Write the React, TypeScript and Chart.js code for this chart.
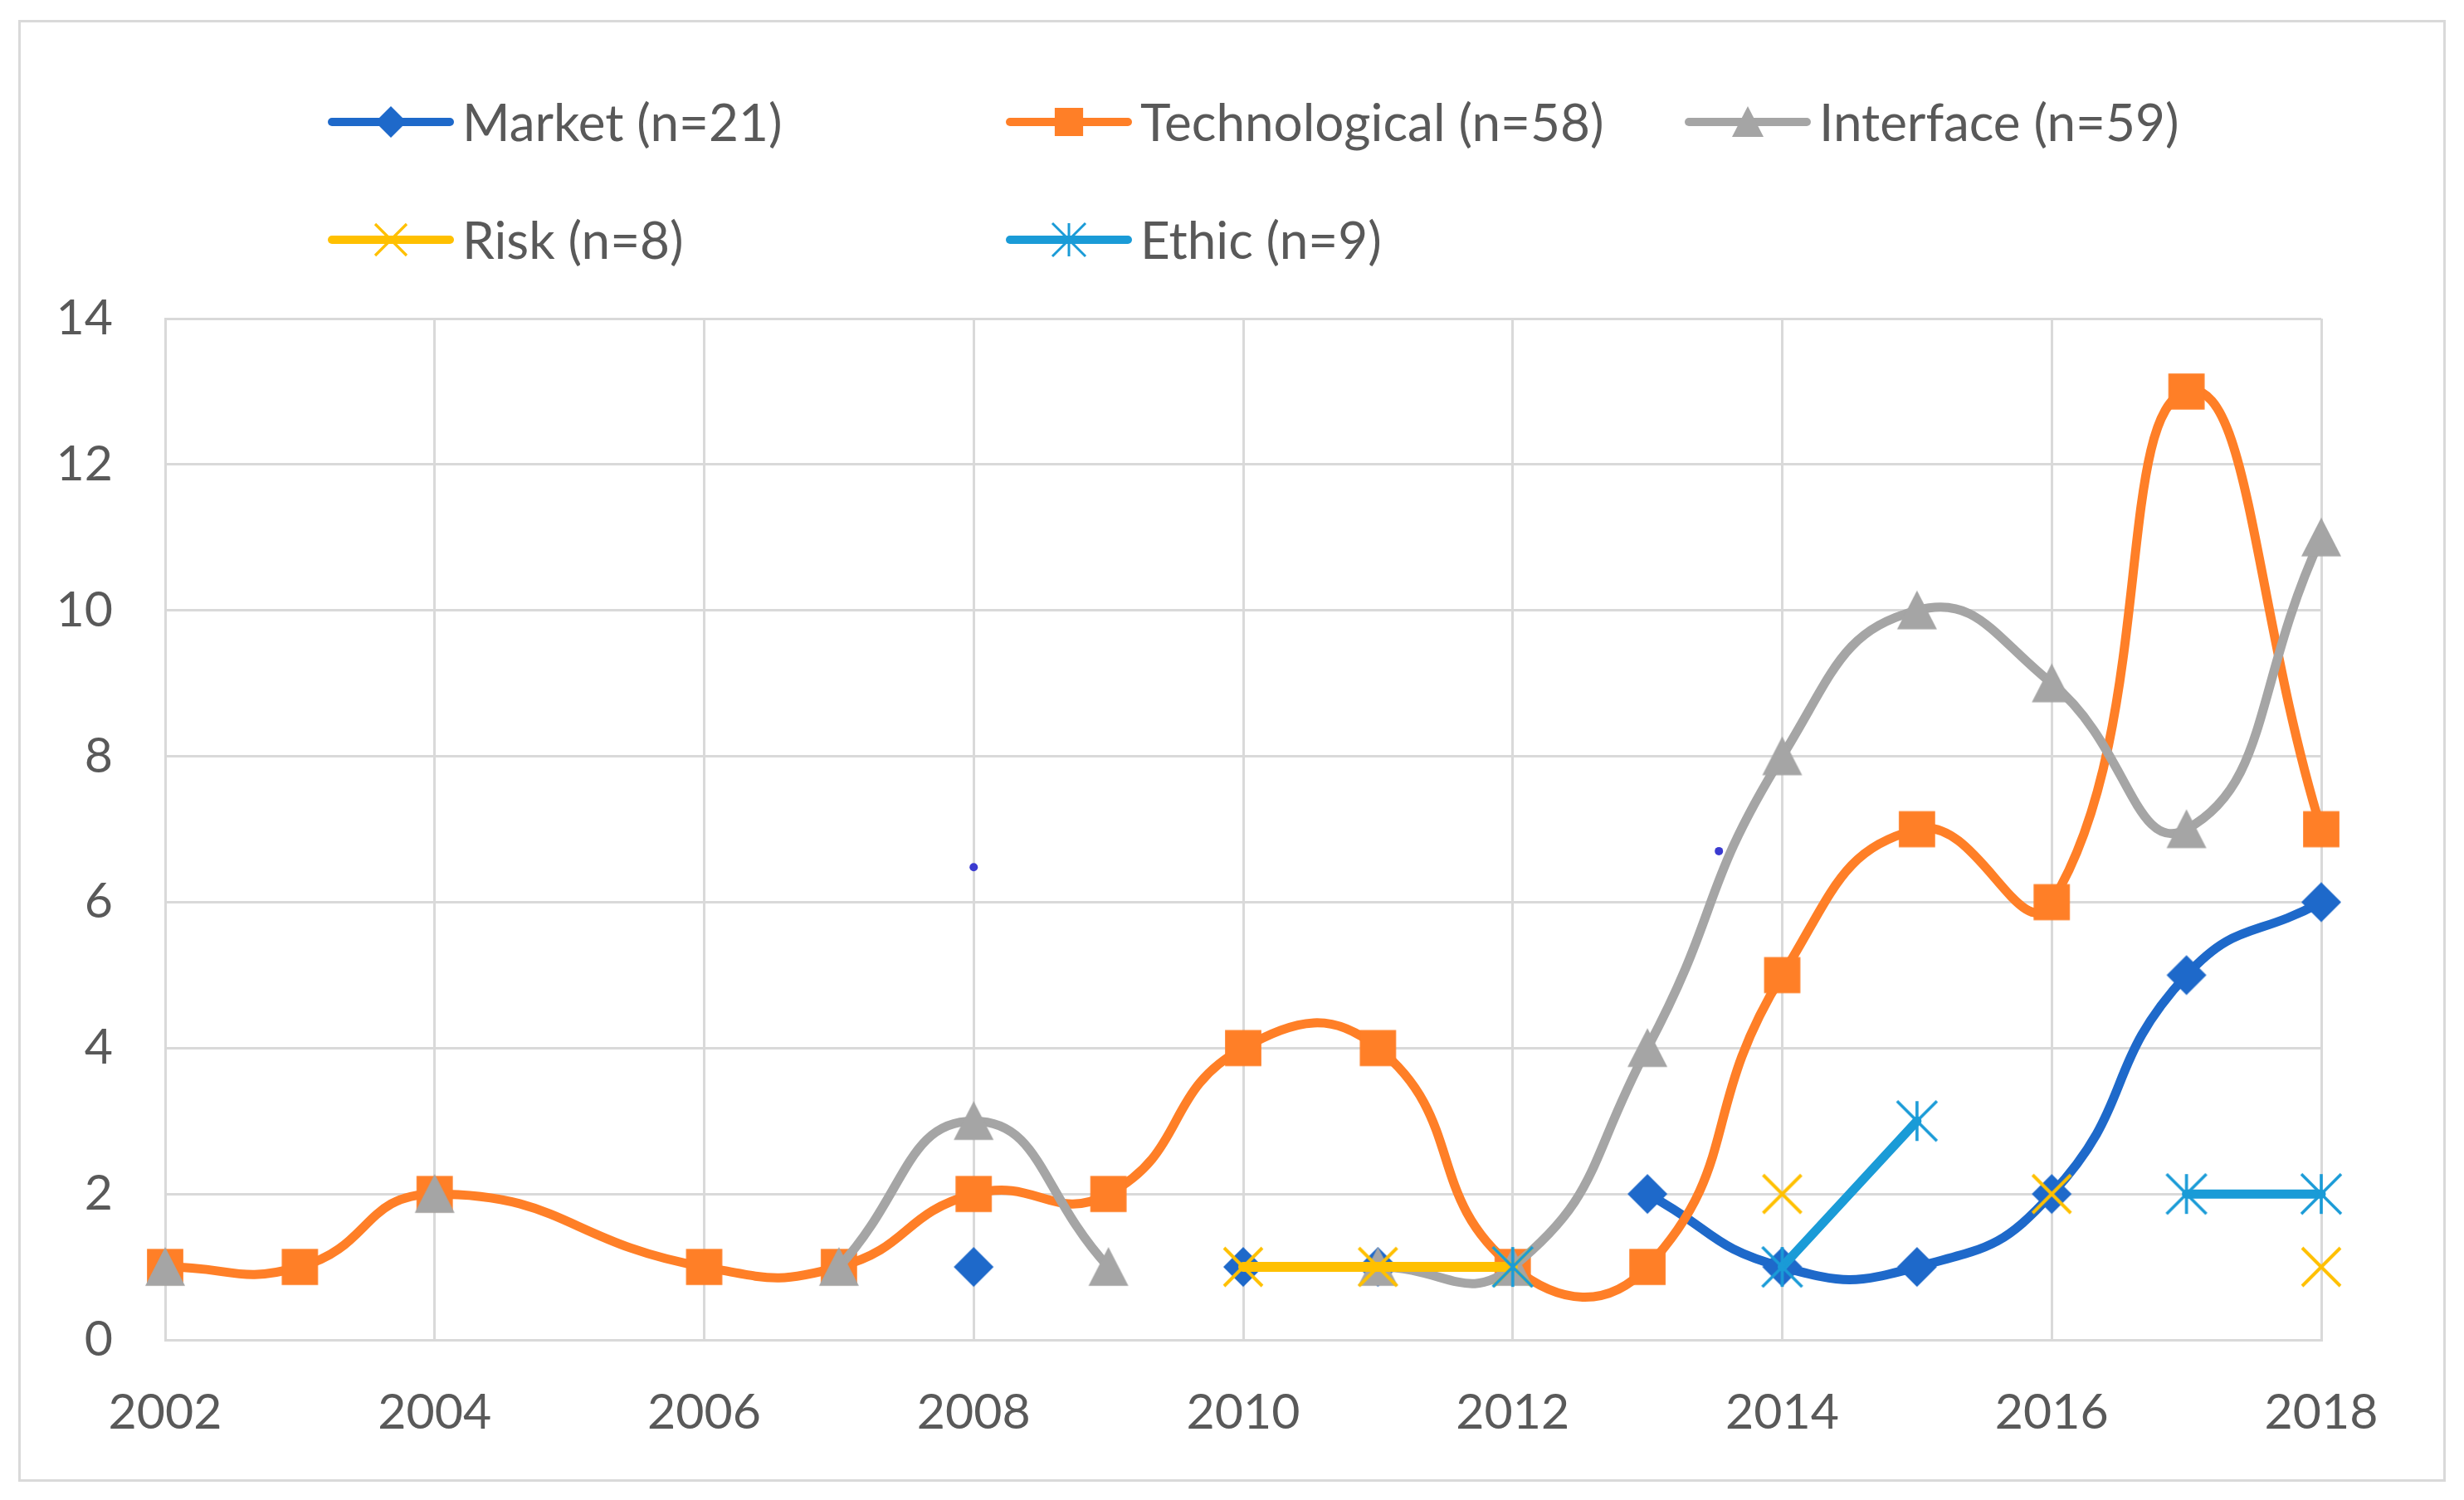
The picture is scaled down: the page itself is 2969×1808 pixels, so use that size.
import React, { useEffect, useRef } from 'react';
import { Chart, registerables } from 'chart.js';

Chart.register(...registerables);

// ---------------- data ----------------
const years = [2002, 2003, 2004, 2005, 2006, 2007, 2008, 2009, 2010, 2011, 2012, 2013, 2014, 2015, 2016, 2017, 2018];
const marketCounts = [null, null, null, null, null, null, 1, null, 1, 1, null, 2, 1, 1, 2, 5, 6];
const technologicalCounts = [1, 1, 2, null, 1, 1, 2, 2, 4, 4, 1, 1, 5, 7, 6, 13, 7];
const interfaceCounts = [1, null, 2, null, null, 1, 3, 1, null, 1, 1, 4, 8, 10, 9, 7, 11];
const riskCounts = [null, null, null, null, null, null, null, null, 1, 1, 1, null, 2, null, 2, null, 1];
const ethicCounts = [null, null, null, null, null, null, null, null, null, null, 1, null, 1, 3, null, 2, 2];
const strayDotX = [2008, 2013.53];
const strayDotY = [6.48, 6.7];
const seriesLabels = ['Market (n=21)', 'Technological (n=58)', 'Interface (n=59)', 'Risk (n=8)', 'Ethic (n=9)'];
const xTickValues = [2002, 2004, 2006, 2008, 2010, 2012, 2014, 2016, 2018];
const xTickLabels = ['2002', '2004', '2006', '2008', '2010', '2012', '2014', '2016', '2018'];
const yTickValues = [0, 2, 4, 6, 8, 10, 12, 14];
const yTickLabels = ['0', '2', '4', '6', '8', '10', '12', '14'];

// ---------------- styles ----------------
const COLORS = {
  market: '#1E69CA',
  tech: '#FF7F27',
  iface: '#A5A5A5',
  risk: '#FFC000',
  ethic: '#1A9BD7',
  stray: '#3A3AD0',
  grid: '#D9D9D9',
  text: '#595959',
};
const FONT_FAMILY = 'Lato, "Noto Sans", sans-serif';
const TICK_FONT_SIZE = 59;
const LEGEND_FONT_SIZE = 62;

type Kind = 'diamond' | 'square' | 'triangle' | 'x' | 'asterisk';

function makeMarker(kind: Kind, color: string, size: number): HTMLCanvasElement {
  const pad = 4;
  const c = document.createElement('canvas');
  c.width = size + pad * 2;
  c.height = size + pad * 2;
  const g = c.getContext('2d')!;
  const cx = c.width / 2;
  const cy = c.height / 2;
  const h = size / 2;
  g.fillStyle = color;
  g.strokeStyle = color;
  g.lineCap = 'butt';
  g.beginPath();
  if (kind === 'diamond') {
    g.moveTo(cx, cy - h);
    g.lineTo(cx + h, cy);
    g.lineTo(cx, cy + h);
    g.lineTo(cx - h, cy);
    g.closePath();
    g.fill();
  } else if (kind === 'square') {
    const s = h * 0.95;
    g.rect(cx - s, cy - s, 2 * s, 2 * s);
    g.fill();
  } else if (kind === 'triangle') {
    g.moveTo(cx, cy - h);
    g.lineTo(cx + h, cy + h * 0.95);
    g.lineTo(cx - h, cy + h * 0.95);
    g.closePath();
    g.fill();
  } else if (kind === 'x') {
    g.lineWidth = Math.max(3, size * 0.085);
    g.moveTo(cx - h, cy - h);
    g.lineTo(cx + h, cy + h);
    g.moveTo(cx + h, cy - h);
    g.lineTo(cx - h, cy + h);
    g.stroke();
  } else if (kind === 'asterisk') {
    g.lineWidth = Math.max(3, size * 0.075);
    g.moveTo(cx, cy - h);
    g.lineTo(cx, cy + h);
    g.moveTo(cx - h, cy - h);
    g.lineTo(cx + h, cy + h);
    g.moveTo(cx + h, cy - h);
    g.lineTo(cx - h, cy + h);
    g.stroke();
  }
  return c;
}

const toPoints = (vals: (number | null)[]) => years.map((x, i) => ({ x, y: vals[i] }));

const App: React.FC = () => {
  const ref = useRef<HTMLCanvasElement | null>(null);

  useEffect(() => {
    if (!ref.current) return;

    const seriesKinds: Kind[] = ['diamond', 'square', 'triangle', 'x', 'asterisk'];
    const seriesColors = [COLORS.market, COLORS.tech, COLORS.iface, COLORS.risk, COLORS.ethic];
    const chartMarkerSizes = [48, 46, 48, 46, 48];
    const legendMarkerSizes = [38, 36, 38, 38, 40];
    const markers = seriesKinds.map((k, i) => makeMarker(k, seriesColors[i], chartMarkerSizes[i]));
    const legendMarkers = seriesKinds.map((k, i) => makeMarker(k, seriesColors[i], legendMarkerSizes[i]));

    const frameAndLegend = {
      id: 'frameAndLegend',
      beforeDraw(chart: any) {
        const ctx = chart.ctx as CanvasRenderingContext2D;
        ctx.save();
        ctx.fillStyle = '#ffffff';
        ctx.fillRect(0, 0, chart.width, chart.height);
        ctx.strokeStyle = COLORS.grid;
        ctx.lineWidth = 3;
        ctx.strokeRect(23.5, 25.5, 2922, 1759);
        ctx.restore();
      },
      afterDraw(chart: any) {
        const ctx = chart.ctx as CanvasRenderingContext2D;
        const colX = [395, 1212, 2030];
        const rowY = [147, 289];
        const lineLen = 152;
        ctx.save();
        ctx.font = `${LEGEND_FONT_SIZE}px ${FONT_FAMILY}`;
        ctx.textBaseline = 'middle';
        ctx.textAlign = 'left';
        seriesLabels.forEach((label, i) => {
          const x0 = colX[i % 3];
          const y = rowY[Math.floor(i / 3)];
          ctx.strokeStyle = seriesColors[i];
          ctx.lineWidth = 10;
          ctx.lineCap = 'round';
          ctx.beginPath();
          ctx.moveTo(x0 + 5, y);
          ctx.lineTo(x0 + lineLen - 5, y);
          ctx.stroke();
          const m = legendMarkers[i];
          ctx.drawImage(m, x0 + lineLen / 2 - m.width / 2, y - m.height / 2);
          ctx.fillStyle = COLORS.text;
          ctx.fillText(label, x0 + lineLen + 10, y + 3);
        });
        ctx.restore();
      },
    };

    const common = {
      tension: 0.5,
      borderWidth: 11,
      borderCapStyle: 'round' as const,
      borderJoinStyle: 'round' as const,
      pointRadius: 26,
      pointHoverRadius: 26,
      fill: false,
      clip: false as const,
    };

    const chart = new Chart(ref.current, {
      type: 'line',
      data: {
        datasets: [
          {
            ...common,
            label: seriesLabels[0],
            data: toPoints(marketCounts),
            borderColor: COLORS.market,
            backgroundColor: COLORS.market,
            pointStyle: markers[0],
            spanGaps: false,
            order: 5,
          },
          {
            ...common,
            label: seriesLabels[1],
            data: toPoints(technologicalCounts),
            borderColor: COLORS.tech,
            backgroundColor: COLORS.tech,
            pointStyle: markers[1],
            spanGaps: true,
            order: 4,
          },
          {
            ...common,
            label: seriesLabels[2],
            data: toPoints(interfaceCounts),
            borderColor: COLORS.iface,
            backgroundColor: COLORS.iface,
            pointStyle: markers[2],
            spanGaps: false,
            order: 3,
          },
          {
            ...common,
            label: seriesLabels[3],
            data: toPoints(riskCounts),
            borderColor: COLORS.risk,
            backgroundColor: COLORS.risk,
            borderWidth: 12,
            pointStyle: markers[3],
            spanGaps: false,
            order: 2,
          },
          {
            ...common,
            label: seriesLabels[4],
            data: toPoints(ethicCounts),
            borderColor: COLORS.ethic,
            backgroundColor: COLORS.ethic,
            pointStyle: markers[4],
            spanGaps: false,
            order: 1,
          },
          {
            label: 'stray',
            data: strayDotX.map((x, i) => ({ x, y: strayDotY[i] })),
            showLine: false,
            pointRadius: 5,
            pointStyle: 'circle',
            backgroundColor: COLORS.stray,
            borderColor: COLORS.stray,
            borderWidth: 0,
            order: 0,
          } as any,
        ],
      },
      options: {
        responsive: false,
        devicePixelRatio: 1,
        animation: false,
        events: [],
        layout: { padding: { top: 384, right: 172, bottom: 0, left: 0 } },
        plugins: {
          legend: { display: false },
          tooltip: { enabled: false },
          title: { display: false },
        },
        scales: {
          x: {
            type: 'linear',
            min: 2002,
            max: 2018,
            afterBuildTicks: (s: any) => {
              s.ticks = xTickValues.map((v) => ({ value: v }));
            },
            afterFit: (s: any) => {
              s.height = 193;
            },
            ticks: {
              autoSkip: false,
              maxRotation: 0,
              padding: 53,
              color: COLORS.text,
              font: { family: FONT_FAMILY, size: TICK_FONT_SIZE },
              callback: (v: any) => xTickLabels[xTickValues.indexOf(Number(v))] ?? '',
            },
            grid: { color: COLORS.grid, lineWidth: 3, drawTicks: false },
            border: { display: true, color: COLORS.grid, width: 3 },
          },
          y: {
            type: 'linear',
            min: 0,
            max: 14,
            afterBuildTicks: (s: any) => {
              s.ticks = yTickValues.map((v) => ({ value: v }));
            },
            afterFit: (s: any) => {
              s.width = 199;
            },
            ticks: {
              padding: 63,
              color: COLORS.text,
              font: { family: FONT_FAMILY, size: TICK_FONT_SIZE },
              callback: (v: any) => yTickLabels[yTickValues.indexOf(Number(v))] ?? '',
            },
            grid: { color: COLORS.grid, lineWidth: 3, drawTicks: false },
            border: { display: true, color: COLORS.grid, width: 3 },
          },
        },
      },
      plugins: [frameAndLegend],
    } as any);

    return () => {
      chart.destroy();
    };
  }, []);

  return (
    <div style={{ position: 'absolute', left: 0, top: 0, width: 2969, height: 1808, background: '#ffffff' }}>
      <canvas ref={ref} width={2969} height={1808} style={{ display: 'block', width: 2969, height: 1808 }} />
    </div>
  );
};

export default App;
